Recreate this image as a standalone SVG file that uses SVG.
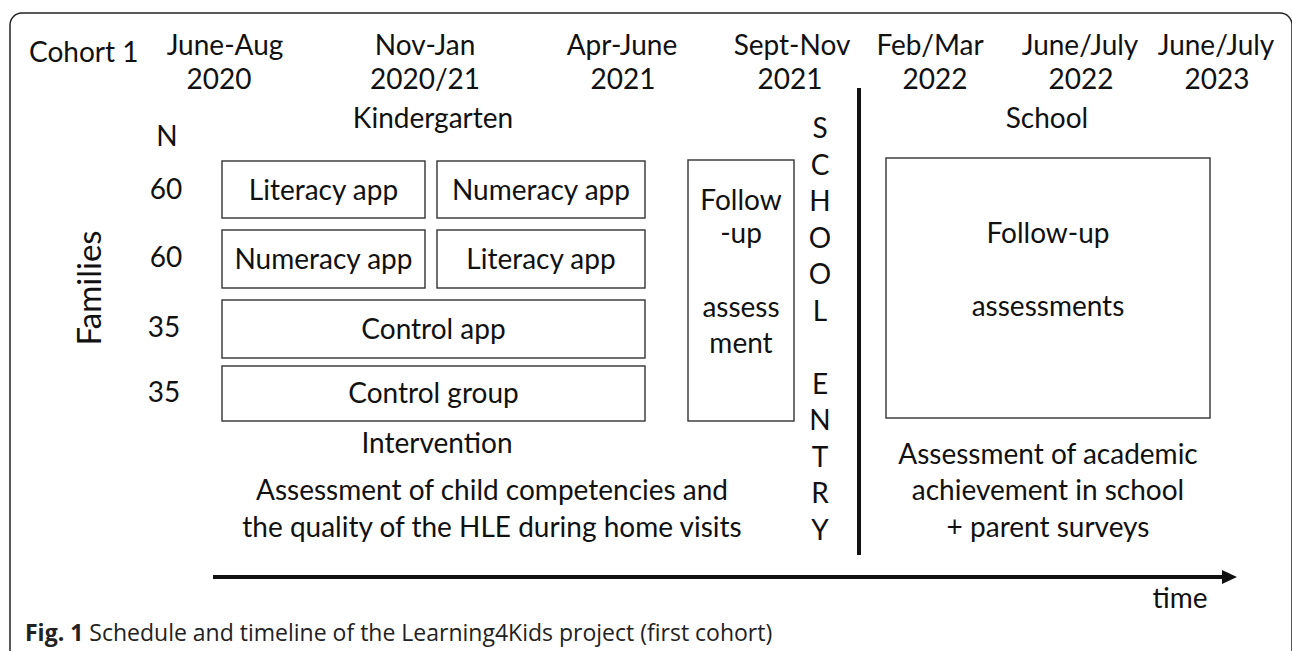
<svg xmlns="http://www.w3.org/2000/svg" width="1292" height="651" viewBox="0 0 1292 651">
<style>
.t{font-family:Lato,'Open Sans',sans-serif;font-size:28px;fill:#111}
.c{text-anchor:middle}
.box{fill:#fff;stroke:#333;stroke-width:1.4}
.cap{font-family:'Open Sans','Noto Sans',sans-serif;font-size:23px;fill:#222}
</style>
<rect width="1292" height="651" fill="#fff"/>
<path d="M10,651 V25 A12,12 0 0 1 22,13 H1280 A12,12 0 0 1 1292,25 V651" fill="none" stroke="#222" stroke-width="1.5"/>

<g id="header">
<text class="t" x="29" y="62">Cohort 1</text>
<text class="t c" x="225" y="55">June-Aug</text>
<text class="t c" x="219" y="89">2020</text>
<text class="t c" x="425" y="55">Nov-Jan</text>
<text class="t c" x="425" y="89">2020/21</text>
<text class="t c" x="622" y="55">Apr-June</text>
<text class="t c" x="623" y="89">2021</text>
<text class="t c" x="792" y="55">Sept-Nov</text>
<text class="t c" x="790" y="89">2021</text>
<text class="t c" x="930" y="55">Feb/Mar</text>
<text class="t c" x="935" y="89">2022</text>
<text class="t c" x="1080" y="55">June/July</text>
<text class="t c" x="1081" y="89">2022</text>
<text class="t c" x="1216" y="55">June/July</text>
<text class="t c" x="1217" y="89">2023</text>
<text class="t c" x="433" y="128">Kindergarten</text>
<text class="t c" x="1047" y="128">School</text>
<text class="t c" x="167" y="146">N</text>
<text class="t c" x="166" y="199">60</text>
<text class="t c" x="166" y="267">60</text>
<text class="t c" x="164" y="337">35</text>
<text class="t c" x="164" y="402">35</text>
<text class="t c" style="font-size:33px" transform="translate(101,288) rotate(-90)">Families</text>
</g>

<g id="n-literacy1"><rect class="box" x="222" y="161" width="203" height="57"/><text class="t c" x="323.5" y="200">Literacy app</text></g>
<g id="n-numeracy1"><rect class="box" x="437" y="161" width="208" height="57"/><text class="t c" x="541" y="200">Numeracy app</text></g>
<g id="n-numeracy2"><rect class="box" x="222" y="230" width="203" height="58"/><text class="t c" x="323.5" y="269">Numeracy app</text></g>
<g id="n-literacy2"><rect class="box" x="437" y="230" width="208" height="58"/><text class="t c" x="541" y="269">Literacy app</text></g>
<g id="n-controlapp"><rect class="box" x="222" y="300" width="423" height="58"/><text class="t c" x="433.5" y="339">Control app</text></g>
<g id="n-controlgroup"><rect class="box" x="222" y="366" width="423" height="55"/><text class="t c" x="433.5" y="403">Control group</text></g>
<g id="n-followup1"><rect class="box" x="688" y="160" width="106" height="261"/>
<text class="t c" x="741" y="210">Follow</text><text class="t c" x="741" y="243">-up</text>
<text class="t c" x="741" y="317">assess</text><text class="t c" x="741" y="353">ment</text></g>
<g id="n-followup2"><rect class="box" x="886" y="158" width="324" height="260"/>
<text class="t c" x="1048" y="243">Follow-up</text><text class="t c" x="1048" y="316">assessments</text></g>

<g id="labels">
<text class="t c" x="437" y="453">Intervention</text>
<text class="t c" x="492" y="500">Assessment of child competencies and</text>
<text class="t c" x="492" y="537">the quality of the HLE during home visits</text>
<text class="t c" x="1048" y="464">Assessment of academic</text>
<text class="t c" x="1048" y="500">achievement in school</text>
<text class="t c" x="1048" y="537">+ parent surveys</text>
<g class="t c">
<text x="820" y="138">S</text><text x="820" y="174.5">C</text><text x="820" y="211">H</text>
<text x="820" y="247.5">O</text><text x="820" y="284">O</text><text x="820" y="320.5">L</text>
<text x="820" y="393.5">E</text><text x="820" y="430">N</text><text x="820" y="466.5">T</text>
<text x="820" y="503">R</text><text x="820" y="539.5">Y</text>
</g>
<text class="t c" x="1180" y="608">time</text>
<text class="cap" x="25" y="641"><tspan font-weight="bold">Fig. 1</tspan> Schedule and timeline of the Learning4Kids project (first cohort)</text>
</g>

<g id="connectors">
<line x1="859" y1="88" x2="859" y2="555" stroke="#111" stroke-width="4"/>
<line x1="213" y1="577" x2="1224" y2="577" stroke="#111" stroke-width="4"/>
<polygon points="1237,577 1222,570 1222,584" fill="#111"/>
</g>
</svg>
